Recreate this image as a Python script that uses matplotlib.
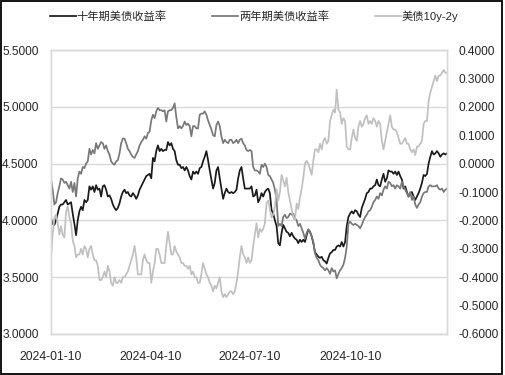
import matplotlib
matplotlib.use("Agg")
import matplotlib.pyplot as plt
import matplotlib.dates as mdates
from matplotlib.patches import Rectangle
from matplotlib.ticker import FormatStrFormatter
import numpy as np
import pandas as pd

# 十年期美债收益率 (%)
y10 = [4.02, 3.97, 3.96, 4.00, 4.06, 4.12, 4.14, 4.14, 4.16, 4.18,
       4.14, 4.15, 4.16, 4.06, 3.97, 3.87, 4.00, 4.08, 4.12, 4.09,
       4.18, 4.16, 4.18, 4.30, 4.27, 4.30, 4.25, 4.31, 4.27, 4.28,
       4.21, 4.30, 4.31, 4.27, 4.21, 4.22, 4.19, 4.14, 4.11, 4.09,
       4.11, 4.15, 4.21, 4.25, 4.27, 4.24, 4.25, 4.22, 4.21, 4.24,
       4.22, 4.19, 4.22, 4.27, 4.30, 4.33, 4.36, 4.39, 4.40, 4.41,
       4.37, 4.55, 4.52, 4.61, 4.66, 4.61, 4.63, 4.61, 4.62, 4.62,
       4.69, 4.66, 4.68, 4.63, 4.61, 4.53, 4.49, 4.49, 4.46, 4.47,
       4.44, 4.47, 4.44, 4.39, 4.36, 4.43, 4.41, 4.43, 4.41, 4.46,
       4.47, 4.52, 4.56, 4.61, 4.53, 4.44, 4.36, 4.28, 4.33, 4.44,
       4.47, 4.37, 4.28, 4.19, 4.24, 4.28, 4.25, 4.24, 4.25, 4.24,
       4.25, 4.27, 4.37, 4.44, 4.47, 4.37, 4.28, 4.28, 4.28, 4.28,
       4.30, 4.21, 4.22, 4.27, 4.16, 4.19, 4.24, 4.21, 4.25, 4.27,
       4.28, 4.24, 4.09, 4.06, 4.00, 3.95, 3.80, 3.78, 3.89, 3.96,
       3.93, 3.90, 3.89, 3.86, 3.89, 3.86, 3.84, 3.83, 3.80, 3.83,
       3.81, 3.83, 3.81, 3.87, 3.92, 3.90, 3.86, 3.80, 3.72, 3.70,
       3.68, 3.67, 3.68, 3.65, 3.64, 3.62, 3.67, 3.71, 3.72, 3.74,
       3.74, 3.77, 3.78, 3.77, 3.81, 3.77, 3.81, 3.95, 4.03, 4.06,
       4.08, 4.06, 4.09, 4.08, 4.05, 4.03, 4.11, 4.15, 4.19, 4.24,
       4.25, 4.28, 4.28, 4.30, 4.31, 4.36, 4.31, 4.30, 4.36, 4.41,
       4.34, 4.37, 4.44, 4.43, 4.43, 4.41, 4.43, 4.40, 4.43, 4.39,
       4.36, 4.28, 4.30, 4.25, 4.21, 4.24, 4.25, 4.21, 4.18, 4.21,
       4.24, 4.28, 4.33, 4.40, 4.39, 4.41, 4.50, 4.56, 4.61, 4.58,
       4.59, 4.61, 4.59, 4.56, 4.58, 4.59, 4.58, 4.59]

# 两年期美债收益率 (%)
y2 = [4.37, 4.27, 4.14, 4.16, 4.24, 4.30, 4.37, 4.36, 4.33, 4.34,
      4.31, 4.28, 4.34, 4.25, 4.33, 4.21, 4.37, 4.43, 4.41, 4.47,
      4.46, 4.50, 4.52, 4.63, 4.58, 4.62, 4.59, 4.68, 4.63, 4.66,
      4.69, 4.68, 4.63, 4.66, 4.61, 4.58, 4.52, 4.50, 4.49, 4.52,
      4.53, 4.59, 4.68, 4.72, 4.72, 4.68, 4.63, 4.61, 4.58, 4.56,
      4.55, 4.58, 4.61, 4.66, 4.69, 4.71, 4.74, 4.72, 4.77, 4.78,
      4.88, 4.93, 4.90, 4.96, 4.99, 4.97, 4.97, 4.96, 4.97, 4.87,
      4.96, 4.97, 4.97, 4.99, 5.03, 4.91, 4.81, 4.83, 4.81, 4.83,
      4.87, 4.84, 4.85, 4.83, 4.74, 4.83, 4.83, 4.81, 4.81, 4.93,
      4.94, 4.94, 4.96, 4.93, 4.88, 4.84, 4.80, 4.75, 4.74, 4.84,
      4.87, 4.83, 4.74, 4.68, 4.71, 4.69, 4.68, 4.71, 4.71, 4.68,
      4.69, 4.71, 4.68, 4.71, 4.72, 4.68, 4.66, 4.62, 4.61, 4.62,
      4.61, 4.47, 4.44, 4.44, 4.43, 4.41, 4.49, 4.47, 4.50, 4.47,
      4.40, 4.39, 4.36, 4.33, 4.27, 4.18, 3.95, 3.97, 3.95, 4.03,
      4.05, 4.02, 4.03, 4.06, 4.05, 4.06, 4.02, 4.00, 3.95, 3.97,
      3.93, 3.89, 3.84, 3.89, 3.92, 3.90, 3.86, 3.81, 3.71, 3.67,
      3.65, 3.61, 3.59, 3.58, 3.56, 3.58, 3.56, 3.53, 3.58, 3.55,
      3.56, 3.49, 3.53, 3.56, 3.58, 3.61, 3.67, 3.77, 3.97, 3.99,
      3.97, 3.96, 3.97, 3.96, 3.95, 3.93, 3.96, 4.00, 4.03, 4.05,
      4.08, 4.09, 4.12, 4.16, 4.18, 4.21, 4.19, 4.24, 4.22, 4.27,
      4.30, 4.28, 4.34, 4.33, 4.30, 4.31, 4.28, 4.31, 4.30, 4.28,
      4.34, 4.30, 4.27, 4.24, 4.21, 4.25, 4.18, 4.21, 4.14, 4.11,
      4.14, 4.16, 4.21, 4.24, 4.25, 4.25, 4.30, 4.31, 4.30, 4.30,
      4.30, 4.31, 4.28, 4.27, 4.28, 4.25, 4.27, 4.28]

# 美债10y-2y (右轴)
spread = [-0.33, -0.25, -0.19, -0.18, -0.21, -0.25, -0.22, -0.25, -0.26, -0.17,
          -0.15, -0.19, -0.21, -0.27, -0.29, -0.33, -0.32, -0.32, -0.30, -0.32,
          -0.29, -0.30, -0.33, -0.30, -0.29, -0.32, -0.34, -0.34, -0.36, -0.41,
          -0.41, -0.40, -0.38, -0.40, -0.36, -0.38, -0.42, -0.43, -0.40, -0.42,
          -0.42, -0.41, -0.42, -0.40, -0.40, -0.39, -0.38, -0.36, -0.34, -0.32,
          -0.29, -0.33, -0.39, -0.39, -0.39, -0.34, -0.32, -0.34, -0.35, -0.35,
          -0.42, -0.38, -0.35, -0.30, -0.30, -0.32, -0.35, -0.35, -0.35, -0.29,
          -0.24, -0.28, -0.32, -0.32, -0.29, -0.31, -0.32, -0.33, -0.35, -0.35,
          -0.36, -0.36, -0.37, -0.36, -0.39, -0.38, -0.40, -0.40, -0.42, -0.42,
          -0.39, -0.35, -0.37, -0.39, -0.40, -0.42, -0.43, -0.45, -0.43, -0.44,
          -0.42, -0.40, -0.45, -0.47, -0.46, -0.47, -0.46, -0.45, -0.45, -0.46,
          -0.45, -0.42, -0.38, -0.33, -0.29, -0.32, -0.33, -0.35, -0.33, -0.35,
          -0.34, -0.29, -0.25, -0.21, -0.26, -0.23, -0.24, -0.23, -0.21, -0.14,
          -0.13, -0.16, -0.19, -0.18, -0.15, -0.09, -0.13, -0.10, -0.04, -0.06,
          -0.08, -0.05, -0.10, -0.13, -0.16, -0.19, -0.20, -0.14, -0.16, -0.12,
          -0.09, -0.05, 0.00, 0.01, 0.00, -0.02, -0.04, 0.01, 0.05, 0.05,
          0.04, 0.07, 0.05, 0.08, 0.09, 0.07, 0.08, 0.15, 0.17, 0.19,
          0.18, 0.26, 0.19, 0.18, 0.14, 0.16, 0.15, 0.06, 0.05, 0.05,
          0.09, 0.12, 0.09, 0.08, 0.13, 0.15, 0.13, 0.14, 0.16, 0.17,
          0.14, 0.15, 0.14, 0.16, 0.15, 0.13, 0.15, 0.14, 0.08, 0.05,
          0.08, 0.11, 0.14, 0.17, 0.13, 0.12, 0.12, 0.11, 0.09, 0.07,
          0.07, 0.08, 0.09, 0.07, 0.07, 0.05, 0.04, 0.05, 0.03, 0.06,
          0.06, 0.07, 0.08, 0.14, 0.15, 0.15, 0.22, 0.25, 0.27, 0.29,
          0.31, 0.29, 0.31, 0.31, 0.32, 0.33, 0.32, 0.32]

dates = pd.date_range("2024-01-10", "2025-01-06", periods=len(y10))
left_ticks = [3.0, 3.5, 4.0, 4.5, 5.0, 5.5]
right_ticks = [-0.6, -0.5, -0.4, -0.3, -0.2, -0.1, 0.0, 0.1, 0.2, 0.3, 0.4]
x_ticks = ["2024-01-10", "2024-04-10", "2024-07-10", "2024-10-10"]

plt.rcParams["font.family"] = ["Liberation Sans", "Noto Sans CJK SC", "DejaVu Sans"]
txt_color = "#262626"
grid_color = "#d9d9d9"

fig = plt.figure(figsize=(5.05, 3.75), dpi=100)
ax = fig.add_axes([51 / 505, 1 - 334 / 375, 396 / 505, 284 / 375])
ax2 = ax.twinx()

l1, = ax.plot(dates, y10, color="#1a1a1a", lw=1.25, label="十年期美债收益率")
l2, = ax.plot(dates, y2, color="#787878", lw=1.25, label="两年期美债收益率")
l3, = ax2.plot(dates, spread, color="#c0c0c0", lw=1.25, label="美债10y-2y")

ax.set_ylim(3.0, 5.5)
ax.set_yticks(left_ticks)
ax.yaxis.set_major_formatter(FormatStrFormatter("%.4f"))
ax2.set_ylim(-0.6, 0.4)
ax2.set_yticks(right_ticks)
ax2.set_yticklabels(["0.0000" if abs(v) < 1e-9 else "%.4f" % v for v in right_ticks])

ax.set_xlim(dates[0], dates[-1])
ax.set_xticks(pd.to_datetime(x_ticks))
ax.xaxis.set_major_formatter(mdates.DateFormatter("%Y-%m-%d"))

ax.grid(axis="y", color=grid_color, lw=1)
ax.set_axisbelow(True)
for a in (ax, ax2):
    for s in a.spines.values():
        s.set_color(grid_color)
        s.set_linewidth(1)

ax.tick_params(axis="y", length=0, pad=9, labelsize=8.6, labelcolor=txt_color)
ax.tick_params(axis="x", length=0, pad=12.5, labelsize=8.8, labelcolor=txt_color)
ax2.tick_params(axis="y", length=0, pad=8, labelsize=8.6, labelcolor=txt_color)

fig.legend(handles=[l1, l2, l3], loc="center", bbox_to_anchor=(0.503, 0.957),
           ncol=3, frameon=False, fontsize=8.1, handlelength=2.3,
           handletextpad=0.05, columnspacing=4.1, labelcolor=txt_color)

fig.patches.append(Rectangle((0.001, 0.003), 0.993, 0.995, transform=fig.transFigure,
                             fill=False, edgecolor="black", lw=1.3))

fig.savefig("out.png", dpi=100)
